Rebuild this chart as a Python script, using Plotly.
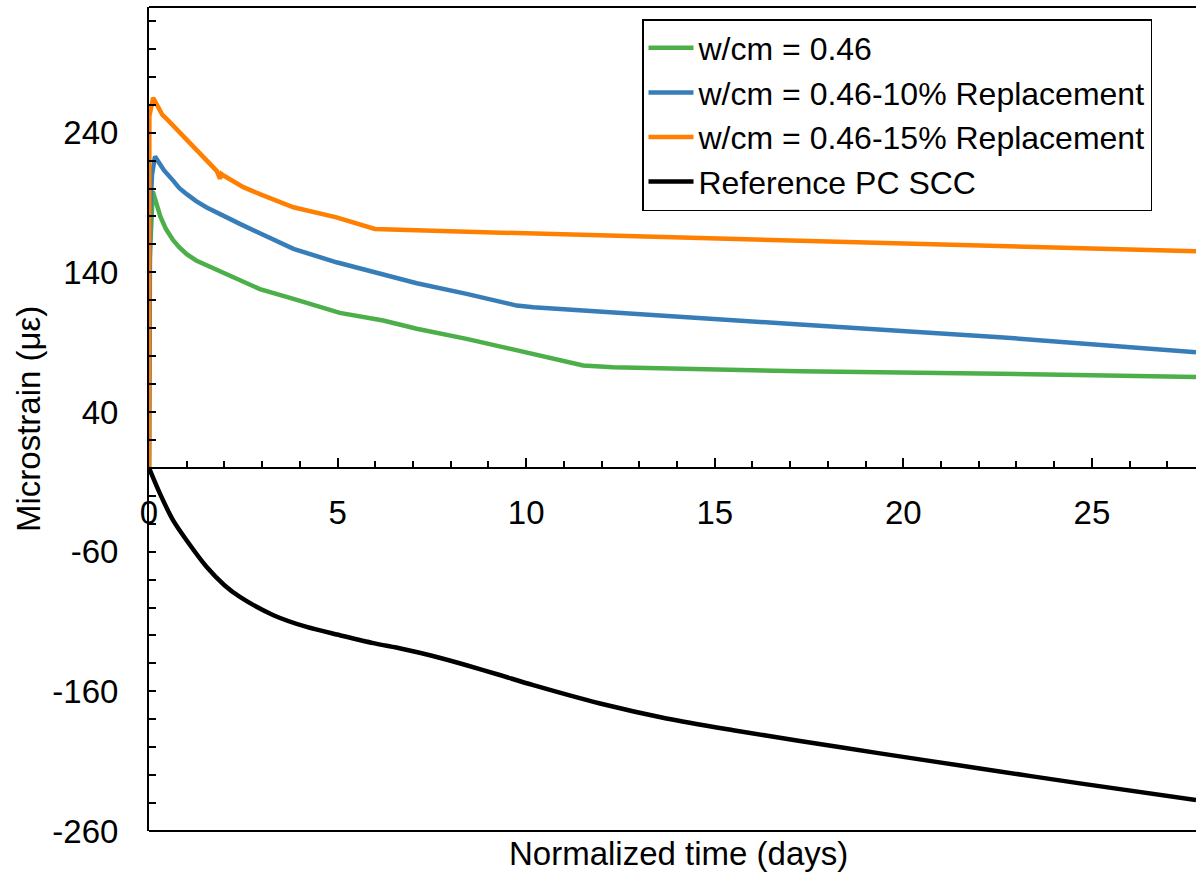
import plotly.graph_objects as go

# ---- data ----
green_x = [0, 0.02, 0.1, 0.2, 0.3, 0.45, 0.64, 0.8, 1.0, 1.25, 1.53, 1.75, 2.0, 2.41, 2.94, 3.83, 5.06, 6.21, 7.10, 8.42, 9.75, 11.51, 12.3, 17.26, 22.56, 27.76]
green_y = [0, 150, 198, 188, 180, 171, 163, 158, 153, 148.5, 145, 142, 139, 134, 128, 121, 111, 105.5, 99.6, 92.4, 84, 73.3, 72, 69.2, 67.4, 65]

blue_x = [0, 0.03, 0.08, 0.16, 0.28, 0.4, 0.64, 0.8, 1.0, 1.25, 1.53, 2.0, 2.41, 2.94, 3.83, 4.97, 5.99, 7.10, 8.42, 9.75, 10.0, 10.19, 11.51, 13.28, 17.26, 22.56, 27.76]
blue_y = [0, 180, 210, 223, 218, 213, 205.7, 200.5, 196, 191, 186.5, 180, 174.7, 168, 156.8, 147.2, 140.1, 132.2, 124.6, 116.2, 115.5, 115.0, 112.7, 109.8, 102.6, 93.6, 82.8]

orange_x = [0, 0.01, 0.11, 0.22, 0.35, 0.5, 0.64, 0.8, 1.0, 1.2, 1.45, 1.65, 1.8, 1.88, 1.92, 2.0, 2.2, 2.5, 2.94, 3.83, 4.97, 5.99, 7.98, 13.28, 22.56, 27.76]
orange_y = [0, 252, 265, 259, 253, 249, 245, 240, 234.5, 229, 222, 216.5, 212.5, 207, 210.5, 209, 205.5, 201, 196, 186.6, 179.4, 171.1, 169.4, 165.6, 159.2, 155.1]

black_x = [0, 0.3, 0.64, 1.0, 1.53, 2.0, 2.41, 3.30, 4.18, 5.06, 5.95, 6.7, 7.5, 8.42, 9.3, 10.19, 11.96, 13.72, 15.49, 17.26, 19.38, 22.03, 24.68, 27.76]
black_y = [0, -19, -37.6, -52, -71, -84, -92.4, -105.5, -113.9, -119.8, -125.5, -129.5, -134.5, -141.3, -148.3, -155.6, -168.7, -179.4, -187.8, -195.5, -204.4, -215.2, -225.9, -237.8]

names = ["w/cm = 0.46", "w/cm = 0.46-10% Replacement", "w/cm = 0.46-15% Replacement", "Reference PC SCC"]
colors = ["#4DAF4A", "#377EB8", "#FF7F00", "#000000"]

y_tickvals = [-260, -160, -60, 40, 140, 240]
y_ticktext = ["-260", "-160", "-60", "40", "140", "240"]
x_tickvals = [0, 5, 10, 15, 20, 25]
x_ticktext = ["0", "5", "10", "15", "20", "25"]

X_MAX = 27.76
Y_MIN, Y_MAX = -260, 330

FONT = "Arial, Liberation Sans, sans-serif"
FS = 33

fig = go.Figure()
series = [(green_x, green_y), (blue_x, blue_y), (orange_x, orange_y), (black_x, black_y)]
for i, ((xs, ys), nm, c) in enumerate(zip(series, names, colors)):
    fig.add_trace(go.Scatter(
        x=xs, y=ys, mode="lines", name=nm, legendgroup=f"g{i}",
        line=dict(color=c, width=4.5, shape="spline" if i == 3 else "linear", smoothing=0.8),
    ))

fig.update_layout(
    width=1196, height=872,
    margin=dict(l=149, r=0, t=7, b=41),
    plot_bgcolor="white", paper_bgcolor="white",
    font=dict(family=FONT, size=FS, color="black"),
    showlegend=True,
    legend=dict(
        x=(642 - 149) / 1047, y=(831 - 19) / 824, xanchor="left", yanchor="top",
        bordercolor="black", borderwidth=1.5, bgcolor="white",
        font=dict(family=FONT, size=32, color="black"),
        traceorder="grouped", tracegroupgap=0, itemwidth=45,
    ),
    xaxis=dict(
        range=[0, X_MAX], anchor="free", position=(0 - Y_MIN) / (Y_MAX - Y_MIN),
        automargin=False,
        showline=True, linecolor="black", linewidth=2,
        showgrid=False, zeroline=False,
        ticks="inside", ticklen=9, tickwidth=1.5, tickcolor="black",
        tickmode="array", tickvals=x_tickvals, ticktext=x_ticktext, ticklabelstandoff=16,
        minor=dict(ticks="inside", tickmode="linear", tick0=0, dtick=1, ticklen=6, tickwidth=1.5,
                   tickcolor="black", showgrid=False),
        tickfont=dict(family=FONT, size=FS, color="black"),
    ),
    yaxis=dict(
        range=[Y_MIN, Y_MAX], automargin=False,
        showline=True, linecolor="black", linewidth=2,
        showgrid=False, zeroline=False,
        ticks="inside", ticklen=7, tickwidth=1.5, tickcolor="black",
        tickmode="array", tickvals=y_tickvals, ticktext=y_ticktext, ticklabelstandoff=22,
        minor=dict(ticks="inside", tickmode="linear", tick0=-260, dtick=20, ticklen=7, tickwidth=1.5,
                   tickcolor="black", showgrid=False),
        tickfont=dict(family=FONT, size=FS, color="black"),
    ),
    shapes=[
        dict(type="line", xref="paper", yref="paper", x0=0, x1=1, y0=0, y1=0, line=dict(color="black", width=2)),
        dict(type="line", xref="paper", yref="paper", x0=0, x1=1, y0=1, y1=1, line=dict(color="black", width=2)),
    ],
    annotations=[
        dict(text="Microstrain (με)", xref="paper", yref="paper", x=(28 - 149) / 1047, y=0.5,
             xanchor="center", yanchor="middle", textangle=-90, showarrow=False,
             font=dict(family=FONT, size=FS, color="black")),
        dict(text="Normalized time (days)", xref="paper", yref="paper", x=(678 - 149) / 1047, y=(831 - 853) / 824,
             xanchor="center", yanchor="middle", showarrow=False,
             font=dict(family=FONT, size=FS, color="black")),
    ],
)

fig.write_html("out.html", config={"displayModeBar": False},
               post_script="document.body.style.margin='0';document.body.style.overflow='hidden';")
